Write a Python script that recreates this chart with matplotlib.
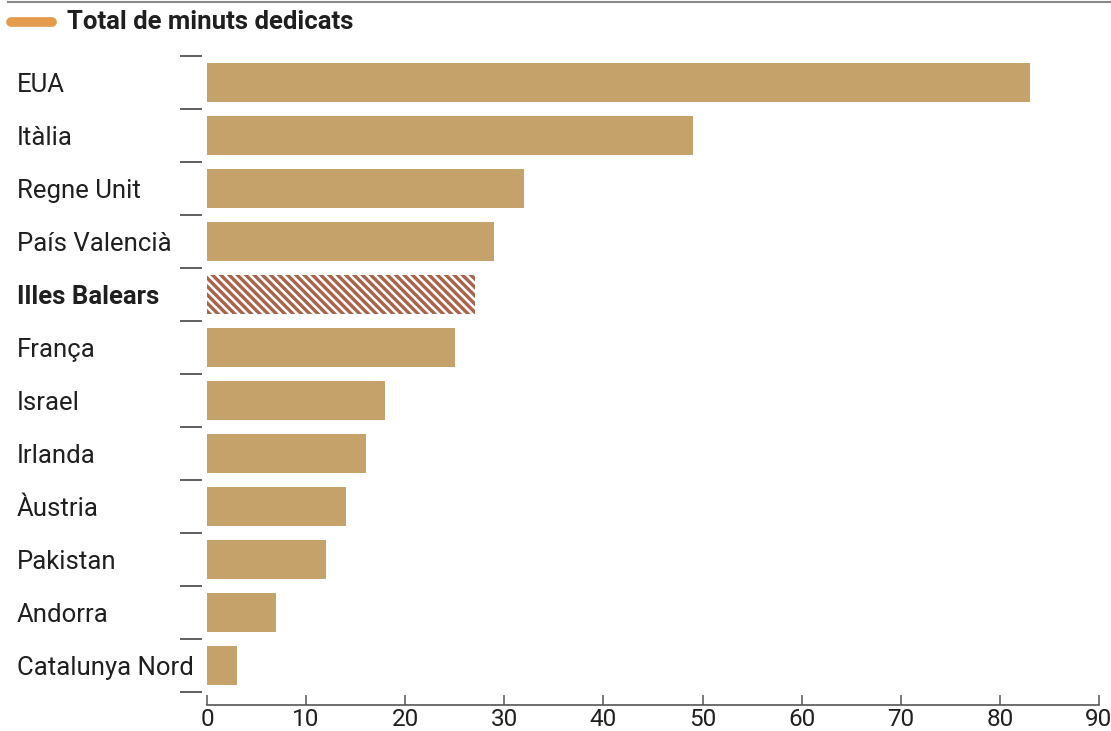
import matplotlib
matplotlib.use("Agg")
import numpy as np
from matplotlib import pyplot as plt
from matplotlib.lines import Line2D

plt.rcParams['font.family'] = ['Roboto', 'DejaVu Sans']
plt.rcParams['hatch.linewidth'] = 1.8

countries = ['EUA', 'Itàlia', 'Regne Unit', 'País Valencià', 'Illes Balears',
             'França', 'Israel', 'Irlanda', 'Àustria', 'Pakistan', 'Andorra',
             'Catalunya Nord']
minutes = [83, 49, 32, 29, 27, 25, 18, 16, 14, 12, 7, 3]
highlight = 'Illes Balears'
xticks = [0, 10, 20, 30, 40, 50, 60, 70, 80, 90]

bar_color = '#c5a26a'
hi_color = '#a8644a'
text_color = '#1f1f1f'

W, H = 1111, 731
fig = plt.figure(figsize=(W / 100, H / 100), dpi=100)
ax = fig.add_axes([207 / W, (H - 705) / H, (1099 - 207) / W, (705 - 56) / H])

ypos = np.arange(len(countries))
for y, name, val in zip(ypos, countries, minutes):
    if name == highlight:
        ax.barh(y, val, height=0.75, color=hi_color, edgecolor='white',
                linewidth=0, hatch='\\\\\\\\')
    else:
        ax.barh(y, val, height=0.75, color=bar_color, linewidth=0)

ax.set_xlim(0, 90)
ax.set_ylim(len(countries) - 0.5 + 13 / 53, -0.5)

# y axis: labels left-aligned at the figure edge, small dashes between rows
ax.spines['left'].set_position(('outward', 3.6))
ax.spines['left'].set_visible(False)
ax.spines['top'].set_visible(False)
ax.spines['right'].set_visible(False)
ax.set_yticks(ypos, countries)
ax.set_yticks(np.arange(len(countries) + 1) - 0.5, minor=True)
ax.tick_params(axis='y', which='major', length=0, pad=133.5, labelsize=18.5,
               labelcolor=text_color)
ax.tick_params(axis='y', which='minor', length=16, width=1.1, color='#333333')
for lab in ax.get_yticklabels():
    lab.set_ha('left')
    if lab.get_text() == highlight:
        lab.set_fontweight('bold')

# x axis
ax.spines['bottom'].set_color('#555555')
ax.spines['bottom'].set_linewidth(1.2)
ax.set_xticks(xticks)
ax.tick_params(axis='x', direction='in', length=7, width=1.1, color='#555555',
               labelsize=17.5, labelcolor=text_color, pad=2)

# header: rule, legend swatch and title
fig.add_artist(Line2D([8 / W, 1], [1 - 1.5 / H, 1 - 1.5 / H], color='#8a8a8a',
                      linewidth=1.5))
fig.add_artist(Line2D([11 / W, 52 / W], [1 - 22 / H, 1 - 22 / H], color='#e49b4e',
                      linewidth=7, solid_capstyle='round'))
fig.text(67 / W, 1 - 22 / H, 'Total de minuts dedicats', fontsize=18.5,
         fontweight='bold', color=text_color, va='center', ha='left')

fig.savefig('out.png', dpi=100)
